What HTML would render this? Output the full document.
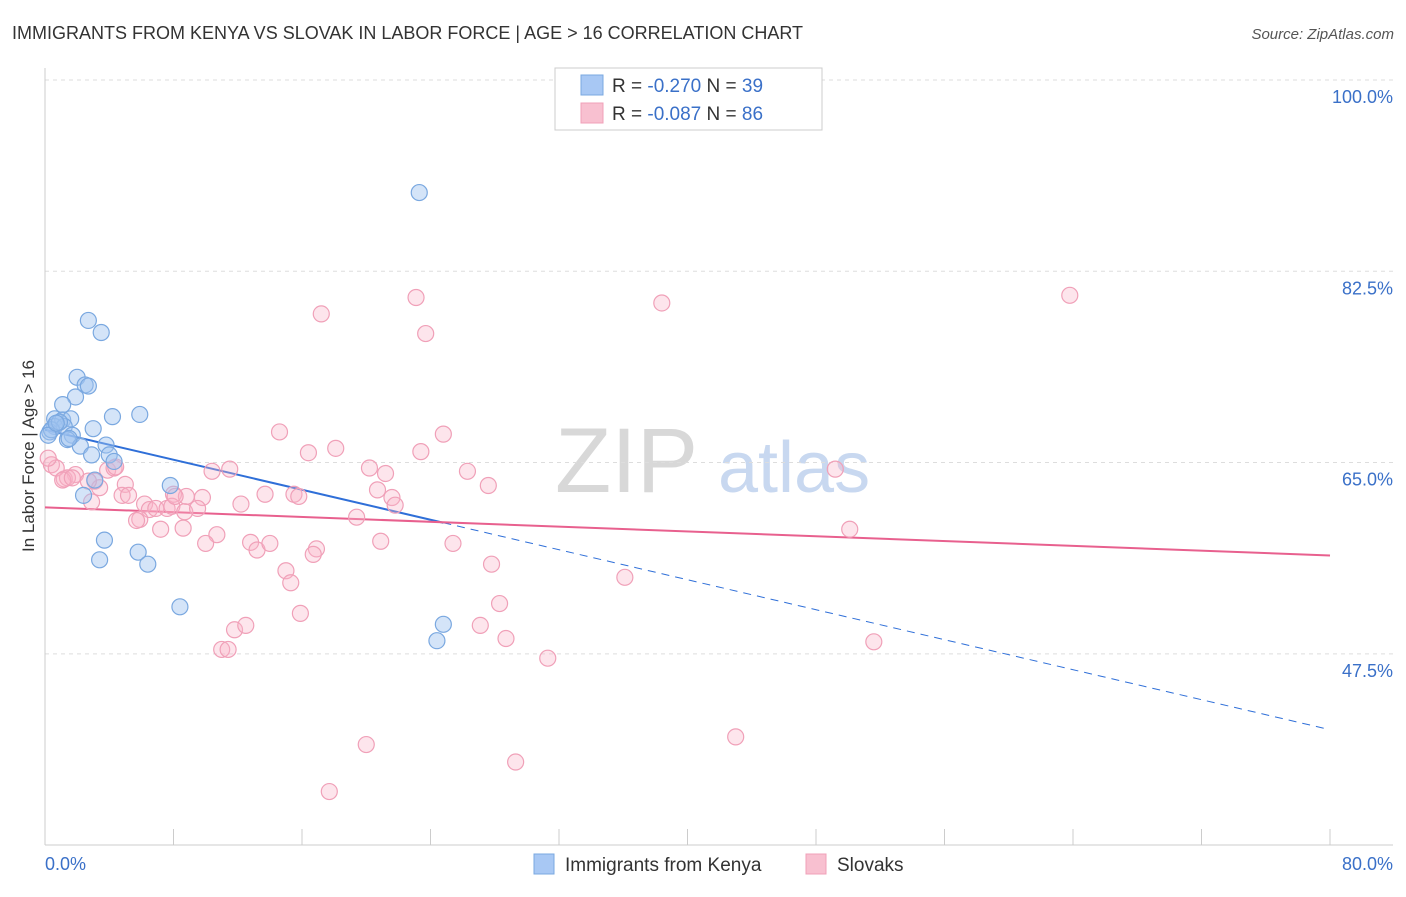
<!DOCTYPE html>
<html><head><meta charset="utf-8"><style>
body{margin:0;background:#fff;font-family:"Liberation Sans",sans-serif;}
svg text{font-family:"Liberation Sans",sans-serif;}
</style></head><body>
<svg id="chart" width="1406" height="892" viewBox="0 0 1406 892" xmlns="http://www.w3.org/2000/svg">
<text x="12" y="39" font-size="18" fill="#333">IMMIGRANTS FROM KENYA VS SLOVAK IN LABOR FORCE | AGE &gt; 16 CORRELATION CHART</text>
<text x="1394" y="39" font-size="15" fill="#555" text-anchor="end" font-style="italic">Source: ZipAtlas.com</text>
<g>
<text x="555" y="492" font-size="92" font-family="Liberation Serif,serif" fill="#d8d8d8">ZIP</text>
<text x="718" y="492" font-size="72" fill="#c8d8f0">atlas</text>
</g>
<g id="grid"></g>
<g id="axes"></g>
<g id="lines"></g>
<g id="points"></g>
<text transform="translate(34,456) rotate(-90)" font-size="17" fill="#333" text-anchor="middle">In Labor Force | Age &gt; 16</text>
<g>
<rect x="555" y="68" width="267" height="62" fill="#fff" stroke="#ccc"/>
<rect x="581" y="75" width="22" height="20" fill="#a8c8f4" stroke="#7aa8e0"/>
<rect x="581" y="103" width="22" height="20" fill="#f8c0d0" stroke="#f0a0b8"/>
<text x="612" y="92" font-size="19" fill="#333">R = <tspan fill="#3a70c8">-0.270</tspan>   N = <tspan fill="#3a70c8">39</tspan></text>
<text x="612" y="120" font-size="19" fill="#333">R = <tspan fill="#3a70c8">-0.087</tspan>   N = <tspan fill="#3a70c8">86</tspan></text>
</g>
<g>
<rect x="534" y="854" width="20" height="20" fill="#a8c8f4" stroke="#7aa8e0"/>
<text x="565" y="871" font-size="19" fill="#333">Immigrants from Kenya</text>
<rect x="806" y="854" width="20" height="20" fill="#f8c0d0" stroke="#f0a0b8"/>
<text x="837" y="871" font-size="19" fill="#333">Slovaks</text>
</g>
</svg>
<script>
const yTicks=[100,82.5,65,47.5];
const yTickLabels=["100.0%","82.5%","65.0%","47.5%"];
const xTickLabels=["0.0%","80.0%"];
const kenyaX=[23.3,2.7,3.5,2.0,2.5,2.7,1.9,1.1,4.2,5.9,0.6,1.1,1.6,0.6,1.2,3.0,0.3,1.7,1.4,2.2,3.8,2.9,4.0,4.3,7.8,3.1,2.4,3.7,3.4,5.8,6.4,8.4,24.8,24.4,0.4,0.9,0.2,0.7,1.5];
const kenyaY=[89.7,78.0,76.9,72.8,72.1,72.0,71.0,70.3,69.2,69.4,69.0,68.9,69.0,68.3,68.3,68.1,67.8,67.5,67.1,66.5,66.6,65.7,65.7,65.1,62.9,63.4,62.0,57.9,56.1,56.8,55.7,51.8,50.2,48.7,68.0,68.7,67.5,68.6,67.2];
const slovakX=[23.1,38.4,63.8,17.2,23.7,14.6,24.8,16.4,18.1,23.4,10.4,11.5,20.2,21.2,26.3,49.2,3.9,4.3,1.9,1.2,1.4,3.1,3.4,5.0,4.8,2.9,8.0,8.8,9.8,13.7,15.5,15.8,20.7,21.6,21.8,27.6,12.2,6.2,6.5,6.9,7.6,7.9,8.7,9.5,5.9,5.7,7.2,8.6,10.7,10.0,12.8,13.2,14.0,16.9,16.7,19.4,20.9,25.4,27.8,36.1,50.1,15.0,15.3,15.9,28.3,27.1,28.7,31.3,51.6,11.8,12.5,11.0,11.4,20.0,29.3,43.0,17.7,0.4,0.7,1.1,1.7,0.2,2.7,4.4,5.2,8.1];
const slovakY=[80.1,79.6,80.3,78.6,76.8,67.8,67.6,65.9,66.3,66.0,64.2,64.4,64.5,64.0,64.2,64.4,64.3,64.5,63.9,63.5,63.6,63.3,62.7,63.0,62.0,61.4,62.1,61.9,61.8,62.1,62.1,61.9,62.5,61.8,61.1,62.9,61.2,61.2,60.7,60.8,60.8,61.0,60.5,60.8,59.8,59.7,58.9,59.0,58.4,57.6,57.7,57.0,57.6,57.1,56.6,60.0,57.8,57.6,55.7,54.5,58.9,55.1,54.0,51.2,52.1,50.1,48.9,47.1,48.6,49.7,50.1,47.9,47.9,39.2,37.6,39.9,34.9,64.8,64.5,63.4,63.6,65.4,63.3,64.6,62.0,61.9];
const kenyaTrend=[68.0,-0.343];
const slovakTrend=[60.9,-0.055];
const ns="http://www.w3.org/2000/svg";
const X=v=>45+v/80*1285;
const Y=v=>80+(100-v)*10.93;
function mk(tag,attrs,parent){const e=document.createElementNS(ns,tag);for(const k in attrs)e.setAttribute(k,attrs[k]);document.getElementById(parent).appendChild(e);return e;}
yTicks.forEach((t,i)=>{
 const g=mk('line',{x1:45,x2:1393,y1:Y(t),y2:Y(t),stroke:'#ddd','stroke-dasharray':'4,4'},'grid');
 
 
 const l=mk('text',{x:1393,y:Y(t)+23,'font-size':18,fill:'#3a70c8','text-anchor':'end'},'axes');
 l.textContent=yTickLabels[i];
 
 
});
const ax=mk('line',{x1:45,x2:1393,y1:845,y2:845,stroke:'#ccc'},'axes');


const ay=mk('line',{x1:45,x2:45,y1:68,y2:845,stroke:'#ccc'},'axes');


for(let i=0;i<=10;i++){
 const t=mk('line',{x1:X(i*8),x2:X(i*8),y1:829,y2:845,stroke:'#ccc'},'axes');
 
 
}
[[0,'start',45],[80,'end',1393]].forEach((d,i)=>{
 const l=mk('text',{x:d[2],y:870,'font-size':18,fill:'#3a70c8','text-anchor':d[1]},'axes');
 l.textContent=xTickLabels[i];
 
 
});
function pts(xs,ys,fill,stroke,name){xs.forEach((x,i)=>{
 const c=mk('circle',{cx:X(x),cy:Y(ys[i]),r:8,fill:fill,stroke:stroke,'stroke-width':1.2},'points');
 
 
});}
pts(slovakX,slovakY,'rgba(248,180,200,0.35)','#f0a0b8','slovak-point');
pts(kenyaX,kenyaY,'rgba(160,196,240,0.45)','#7aa8e0','kenya-point');
const f=(t,x)=>t[0]+t[1]*x;
const b1=mk('line',{x1:X(0),y1:Y(f(kenyaTrend,0)),x2:X(24.8),y2:Y(f(kenyaTrend,24.8)),stroke:'#2f6fd8','stroke-width':2},'lines');


const b2=mk('line',{x1:X(24.8),y1:Y(f(kenyaTrend,24.8)),x2:X(79.8),y2:Y(f(kenyaTrend,79.8)),stroke:'#2f6fd8','stroke-width':1,'stroke-dasharray':'8,6'},'lines');


const p1=mk('line',{x1:X(0),y1:Y(f(slovakTrend,0)),x2:X(80),y2:Y(f(slovakTrend,80)),stroke:'#e8608e','stroke-width':2},'lines');


</script>
</body></html>
